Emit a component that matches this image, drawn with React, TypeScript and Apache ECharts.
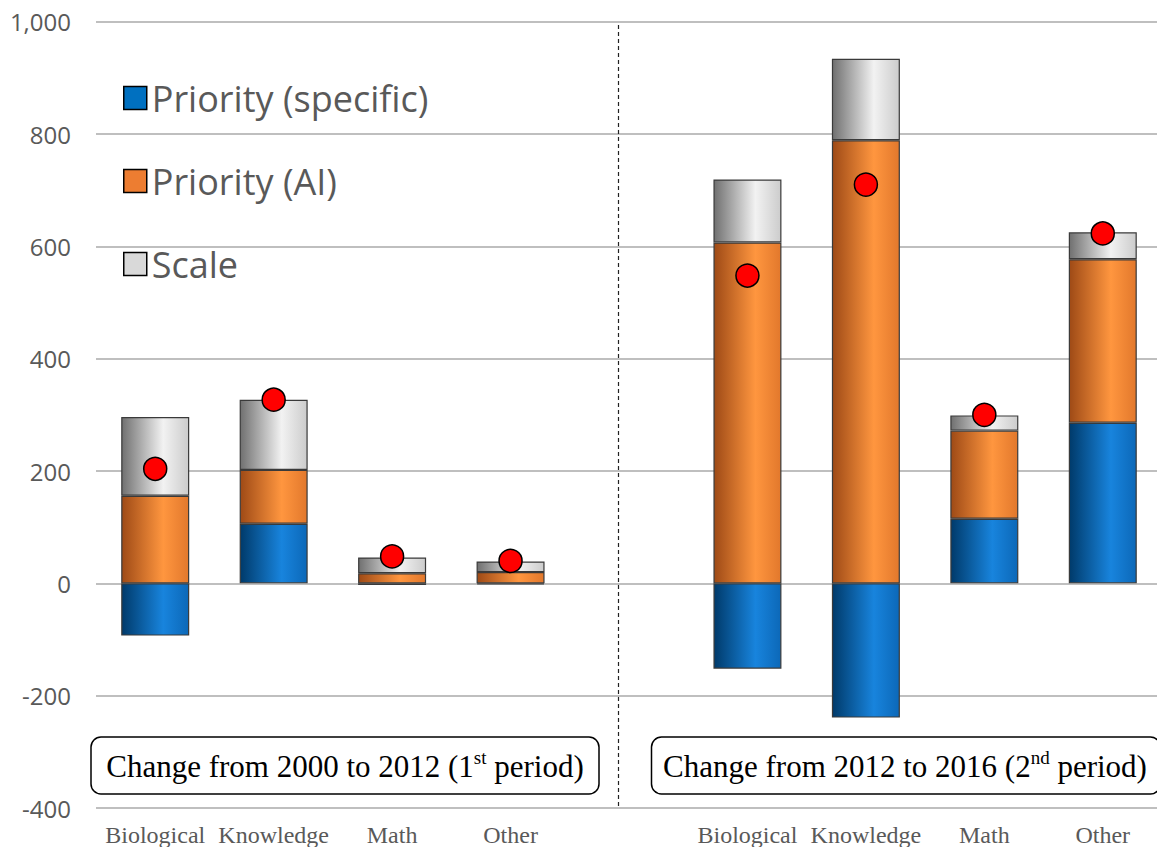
import React, { useEffect, useRef } from "react";
import * as echarts from "echarts";

const categories = ["Biological", "Knowledge", "Math", "Other", "", "Biological", "Knowledge", "Math", "Other"];
const prioritySpecific = [-93, 106, -3, -2, null, -152, -239, 115, 286];
const priorityAI = [156, 96, 18, 20, null, 607, 789, 157, 291];
const scaleValues = [140, 125, 28, 19, null, 112, 145, 27, 48];
const totalDots = [204, 327, 48, 40, null, 548, 710, 300, 623];
const seriesNames = ["Priority (specific)", "Priority (AI)", "Scale"];
const periodTexts = [
  { pre: "Change from 2000 to 2012 (1", sup: "st", post: " period)" },
  { pre: "Change from 2012 to 2016 (2", sup: "nd", post: " period)" },
];
const yTicks = { min: -400, max: 1000, interval: 200 };

const clean = (arr: (number | null)[]) => arr.map((v) => (v === null ? "-" : v));

const grad = (c0: string, c1: string, c2: string) =>
  new echarts.graphic.LinearGradient(0, 0, 1, 0, [
    { offset: 0, color: c0 },
    { offset: 0.62, color: c1 },
    { offset: 1, color: c2 },
  ]);

export default function App() {
  const ref = useRef<HTMLDivElement>(null);
  useEffect(() => {
    if (!ref.current) return;
    const chart = echarts.init(ref.current, null, { renderer: "svg" });
    const border = { borderColor: "#3a3a3a", borderWidth: 1.2 };
    const solid = ["#0070C0", "#ED7D31", "#D9D9D9"];
    const barCommon = {
      type: "bar",
      stack: "total",
      barWidth: 68,
    };
    const serifFont = "'Liberation Serif', 'Times New Roman', serif";
    const richStyle = {
      a: { fontSize: 31, fontFamily: serifFont, fill: "#000", color: "#000", lineHeight: 36 },
      s: { fontSize: 19, fontFamily: serifFont, fill: "#000", color: "#000", lineHeight: 36, verticalAlign: "top" },
    };
    const boxes = [
      { x: 91, w: 508 },
      { x: 651.5, w: 509 },
    ];
    chart.setOption({
      animation: false,
      backgroundColor: "#ffffff",
      grid: { left: 96, width: 1066, top: 21.7, bottom: 39 },
      legend: {
        orient: "vertical",
        left: 118,
        top: 75,
        itemWidth: 23,
        itemHeight: 23,
        itemGap: 47,
        icon: "rect",
        textStyle: { fontFamily: "'Open Sans', sans-serif", fontSize: 36, color: "#595959", padding: [0, 0, 0, 0] },
        data: seriesNames.map((n, i) => ({
          name: n,
          itemStyle: { color: solid[i], borderColor: "#000", borderWidth: 1.5 },
        })),
      },
      xAxis: {
        type: "category",
        data: categories,
        axisLine: { show: false },
        axisTick: { show: false },
        axisLabel: {
          interval: 0,
          margin: 15,
          fontFamily: serifFont,
          fontSize: 24,
          color: "#595959",
        },
      },
      yAxis: {
        type: "value",
        min: yTicks.min,
        max: yTicks.max,
        interval: yTicks.interval,
        axisLine: { show: false },
        axisTick: { show: false },
        splitLine: { lineStyle: { color: "#BFBFBF", width: 2 } },
        axisLabel: {
          margin: 25,
          fontFamily: "'Open Sans', sans-serif",
          fontSize: 24,
          color: "#595959",
          formatter: (v: number) => v.toLocaleString("en-US"),
        },
      },
      series: [
        {
          ...barCommon,
          name: seriesNames[0],
          data: clean(prioritySpecific),
          itemStyle: { color: grad("#003A6A", "#1884DD", "#0C68B8"), ...border },
        },
        {
          ...barCommon,
          name: seriesNames[1],
          data: clean(priorityAI),
          itemStyle: { color: grad("#9E4A16", "#FF963F", "#E2782C"), ...border },
        },
        {
          ...barCommon,
          name: seriesNames[2],
          data: clean(scaleValues),
          itemStyle: { color: grad("#707070", "#F2F2F2", "#CCCCCC"), ...border },
        },
        {
          type: "scatter",
          name: "Total",
          data: clean(totalDots),
          symbolSize: 23,
          z: 5,
          itemStyle: { color: "#FF0000", borderColor: "#000", borderWidth: 1.5, opacity: 1 },
        },
      ],
      graphic: [
        {
          type: "line",
          shape: { x1: 618.5, y1: 25, x2: 618.5, y2: 808 },
          style: { stroke: "#222", lineWidth: 1.2, lineDash: [4, 3] },
          z: 10,
        },
        ...boxes.map((b, i) => ({
          type: "group",
          z: 10,
          children: [
            {
              type: "rect",
              shape: { x: b.x, y: 737, width: b.w, height: 57, r: 10 },
              style: { fill: "#fff", stroke: "#000", lineWidth: 1.5 },
            },
            {
              type: "text",
              x: b.x + b.w / 2 - (i === 1 ? 1 : 0),
              y: 766,
              style: {
                text: `{a|${periodTexts[i].pre}}{s|${periodTexts[i].sup}}{a|${periodTexts[i].post}}`,
                rich: richStyle,
                align: "center",
                verticalAlign: "middle",
              },
            },
          ],
        })),
      ],
    });
    return () => chart.dispose();
  }, []);
  return (
    <div style={{ position: "fixed", left: 0, top: 0, width: 1157, height: 847, overflow: "hidden" }}>
      <div ref={ref} style={{ width: 1170, height: 847 }} />
    </div>
  );
}
